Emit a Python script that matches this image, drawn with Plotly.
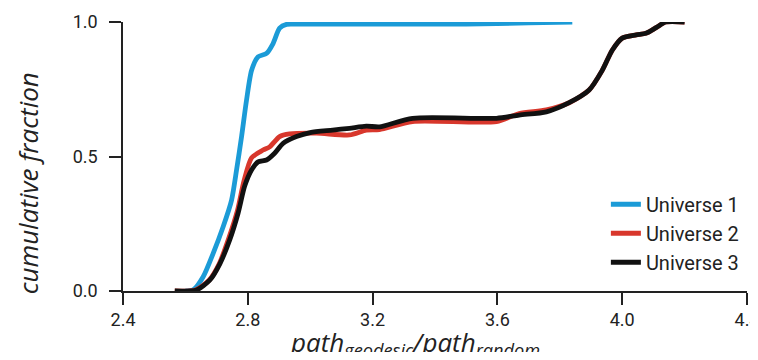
import plotly.graph_objects as go

u1_x = [2.60, 2.625, 2.657, 2.689, 2.721, 2.748, 2.764, 2.78, 2.796, 2.812, 2.833, 2.86, 2.881, 2.902, 2.924, 2.95, 3.10, 3.30, 3.50, 3.70, 3.84]
u1_y = [0.0, 0.004, 0.053, 0.14, 0.239, 0.338, 0.45, 0.574, 0.71, 0.82, 0.871, 0.883, 0.92, 0.977, 0.991, 0.992, 0.992, 0.992, 0.992, 0.997, 1.0]

u2_x = [2.566, 2.632, 2.676, 2.708, 2.74, 2.767, 2.788, 2.812, 2.849, 2.87, 2.902, 2.934, 3.02, 3.126, 3.18, 3.222, 3.328, 3.597, 3.67, 3.757, 3.83, 3.894, 3.936, 3.968, 4.0, 4.045, 4.076, 4.11, 4.14, 4.2]
u2_y = [0.0, 0.004, 0.04, 0.10, 0.20, 0.30, 0.41, 0.495, 0.524, 0.536, 0.574, 0.584, 0.587, 0.58, 0.598, 0.60, 0.63, 0.63, 0.66, 0.673, 0.70, 0.747, 0.82, 0.895, 0.94, 0.952, 0.958, 0.98, 1.0, 1.0]

u3_x = [2.566, 2.636, 2.678, 2.71, 2.742, 2.769, 2.79, 2.812, 2.833, 2.86, 2.886, 2.913, 2.956, 3.0, 3.072, 3.126, 3.18, 3.222, 3.328, 3.597, 3.67, 3.757, 3.83, 3.894, 3.936, 3.968, 4.0, 4.045, 4.076, 4.11, 4.14, 4.2]
u3_y = [0.0, 0.004, 0.04, 0.10, 0.19, 0.29, 0.39, 0.45, 0.48, 0.487, 0.512, 0.549, 0.574, 0.589, 0.598, 0.605, 0.613, 0.61, 0.642, 0.642, 0.654, 0.666, 0.70, 0.747, 0.82, 0.895, 0.94, 0.952, 0.958, 0.98, 1.0, 1.0]

names = ["Universe 1", "Universe 2", "Universe 3"]
colors = ["#1b9bd7", "#d8372c", "#111111"]

x_ticks = [2.4, 2.8, 3.2, 3.6, 4.0, 4.4]
y_ticks = [0.0, 0.5, 1.0]

fig = go.Figure()
for xs, ys, nm, c in zip([u1_x, u2_x, u3_x], [u1_y, u2_y, u3_y], names, colors):
    fig.add_trace(go.Scatter(x=xs, y=ys, mode="lines", name=nm,
                             line=dict(color=c, width=4.8, shape="spline", smoothing=0.7)))

narrow = "Roboto, Liberation Sans, sans-serif"
tick_font = dict(family=narrow, size=18, color="#222")
title_font = dict(family="Open Sans, Noto Sans, sans-serif", size=26, color="#222", style="italic")

axis_common = dict(showline=True, linecolor="#222", linewidth=1.5, ticks="outside", ticklen=12,
                   tickwidth=1.5, tickcolor="#222", showgrid=False, zeroline=False,
                   tickfont=tick_font, automargin=False, ticklabeloverflow="allow")

# the page body adds an 8px margin, so the figure is sized 750x344 (no scrollbars)
fig.update_layout(
    width=750, height=344,
    margin=dict(l=115, r=11, t=14, b=61),
    paper_bgcolor="white", plot_bgcolor="white",
    showlegend=True,
    legend=dict(x=0.995, y=0.395, xanchor="right", yanchor="top", bgcolor="rgba(0,0,0,0)",
                font=dict(family=narrow, size=20, color="#222"),
                tracegroupgap=0, itemwidth=30),
    xaxis=dict(range=[2.4, 4.4], tickvals=x_ticks, ticktext=[f"{v:.1f}" for v in x_ticks], **axis_common),
    yaxis=dict(range=[0, 1], tickvals=y_ticks, ticktext=[f"{v:.1f}" for v in y_ticks],
               ticklabelstandoff=8, **axis_common),
    annotations=[
        dict(text="path<sub>geodesic</sub>/path<sub>random</sub>", xref="paper", yref="paper",
             x=0.468, y=-0.195, xanchor="center", yanchor="middle", showarrow=False, font=title_font),
        dict(text="cumulative fraction", xref="paper", yref="paper", textangle=-90,
             x=-0.152, y=0.401, xanchor="center", yanchor="middle", showarrow=False, font=title_font),
    ],
)

fig.write_html("out.html", config={"displayModeBar": False})
